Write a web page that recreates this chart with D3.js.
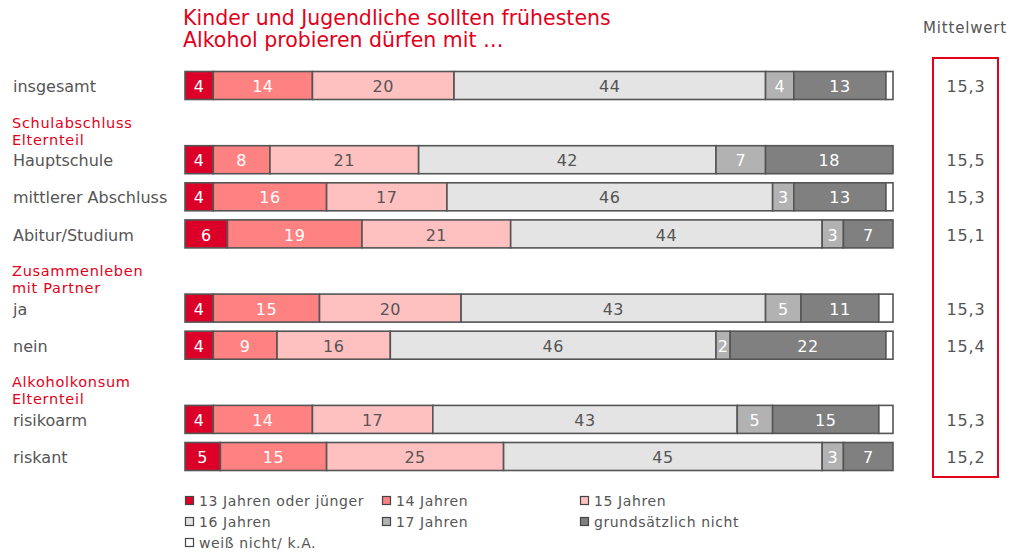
<!DOCTYPE html>
<html>
<head>
<meta charset="utf-8">
<script src="https://cdn.jsdelivr.net/npm/d3@7"></script>
<style>
  body { margin: 0; background: #fff; }
  svg { display: block; font-family: "DejaVu Sans", Verdana, sans-serif; }
</style>
</head>
<body>
<div id="chart"></div>
<script>
// Antwortkategorien (Reihenfolge der Segmente)
const series = ["13 Jahren oder jünger", "14 Jahren", "15 Jahren", "16 Jahren", "17 Jahren", "grundsätzlich nicht", "weiß nicht/ k.A."];
const colors = ["#dc0028", "#ff8282", "#ffc0c0", "#e4e4e4", "#b2b2b2", "#808080", "#ffffff"];
const textColors = ["#fff", "#fff", "#555", "#555", "#fff", "#fff", "none"];

// Zeilen (Gruppenüberschriften mit "|" getrennt)
const rows = ["insgesamt", "Schulabschluss|Elternteil", "Hauptschule", "mittlerer Abschluss", "Abitur/Studium",
  "Zusammenleben|mit Partner", "ja", "nein", "Alkoholkonsum|Elternteil", "risikoarm", "riskant"];
const isHeader = [false, true, false, false, false, true, false, false, true, false, false];

// Werte in Prozent je Zeile
const v13 = [4, null, 4, 4, 6, null, 4, 4, null, 4, 5];
const v14 = [14, null, 8, 16, 19, null, 15, 9, null, 14, 15];
const v15 = [20, null, 21, 17, 21, null, 20, 16, null, 17, 25];
const v16 = [44, null, 42, 46, 44, null, 43, 46, null, 43, 45];
const v17 = [4, null, 7, 3, 3, null, 5, 2, null, 5, 3];
const vNicht = [13, null, 18, 13, 7, null, 11, 22, null, 15, 7];
const vKA = [1, null, 0, 1, 0, null, 2, 1, null, 2, 0];
const means = ["15,3", null, "15,5", "15,3", "15,1", null, "15,3", "15,4", null, "15,3", "15,2"];

const W = 1011, H = 555;
const red = "#e2001a", grey = "#555";

const svg = d3.select("#chart").append("svg").attr("width", W).attr("height", H);

const x = d3.scaleLinear().domain([0, 100]).range([185, 893]);
const y = d3.scalePoint().domain(d3.range(rows.length)).range([85.5, 456.5]);
const barH = 28;

// Titel
svg.append("text").attr("x", 183).attr("y", 25).attr("fill", red).attr("font-size", 20.5)
  .text("Kinder und Jugendliche sollten frühestens");
svg.append("text").attr("x", 183).attr("y", 47).attr("fill", red).attr("font-size", 20.5)
  .text("Alkohol probieren dürfen mit …");

svg.append("text").attr("x", 965).attr("y", 33).attr("text-anchor", "middle")
  .attr("fill", grey).attr("font-size", 15).attr("letter-spacing", 0.8).text("Mittelwert");

// Zeilenbeschriftungen
rows.forEach((r, i) => {
  if (isHeader[i]) {
    const parts = r.split("|");
    parts.forEach((p, k) => {
      svg.append("text").attr("x", 12).attr("y", y(i) + k * 17).attr("dy", "0.35em")
        .attr("fill", red).attr("font-size", 14.5).attr("letter-spacing", 0.7).text(p);
    });
  } else {
    svg.append("text").attr("x", 13).attr("y", y(i) + 1).attr("dy", "0.35em")
      .attr("fill", grey).attr("font-size", 16).text(r);
  }
});

// Balken
const allVals = [v13, v14, v15, v16, v17, vNicht, vKA];
const barRows = d3.range(rows.length).filter(i => !isHeader[i]);
const data = barRows.map(i => {
  const o = { idx: i };
  series.forEach((s, k) => o[s] = allVals[k][i]);
  return o;
});
const stacked = d3.stack().keys(series)(data);

const layer = svg.append("g").selectAll("g").data(stacked).join("g");
layer.selectAll("rect").data((d, k) => d.map(p => ({ p, k })))
  .join("rect")
  .attr("x", d => x(d.p[0]))
  .attr("y", d => y(d.p.data.idx) - barH / 2)
  .attr("width", d => x(d.p[1]) - x(d.p[0]))
  .attr("height", barH)
  .attr("fill", d => colors[d.k])
  .attr("stroke", "#555")
  .attr("stroke-width", d => (d.p[1] - d.p[0]) > 0 ? 1.6 : 0);

layer.selectAll("text").data((d, k) => d.map(p => ({ p, k })).filter(e => e.k < 6 && e.p[1] - e.p[0] > 0))
  .join("text")
  .attr("x", d => (x(d.p[0]) + x(d.p[1])) / 2)
  .attr("y", d => y(d.p.data.idx) + 1)
  .attr("dy", "0.35em")
  .attr("text-anchor", "middle")
  .attr("font-size", 16)
  .attr("letter-spacing", 0.5)
  .attr("fill", d => textColors[d.k])
  .text(d => d.p[1] - d.p[0]);

// Mittelwert-Kasten
svg.append("rect").attr("x", 933).attr("y", 58).attr("width", 65).attr("height", 419)
  .attr("fill", "none").attr("stroke", red).attr("stroke-width", 2);
barRows.forEach(i => {
  svg.append("text").attr("x", 966).attr("y", y(i) + 1).attr("dy", "0.35em")
    .attr("text-anchor", "middle").attr("fill", grey).attr("font-size", 16)
    .attr("letter-spacing", 0.8).text(means[i]);
});

// Legende
const legCols = [185, 382, 580];
const legRows = [501, 522, 543];
const leg = svg.append("g").selectAll("g").data(series).join("g")
  .attr("transform", (d, k) => `translate(${legCols[k % 3]},${legRows[Math.floor(k / 3)]})`);
leg.append("rect").attr("x", 0.5).attr("y", -4.5).attr("width", 8).attr("height", 8)
  .attr("fill", (d, k) => colors[k]).attr("stroke", "#444").attr("stroke-width", 1.2);
leg.append("text").attr("x", 14).attr("y", 0).attr("dy", "0.35em")
  .attr("fill", grey).attr("font-size", 14).attr("letter-spacing", 0.6).text(d => d);
</script>
</body>
</html>
